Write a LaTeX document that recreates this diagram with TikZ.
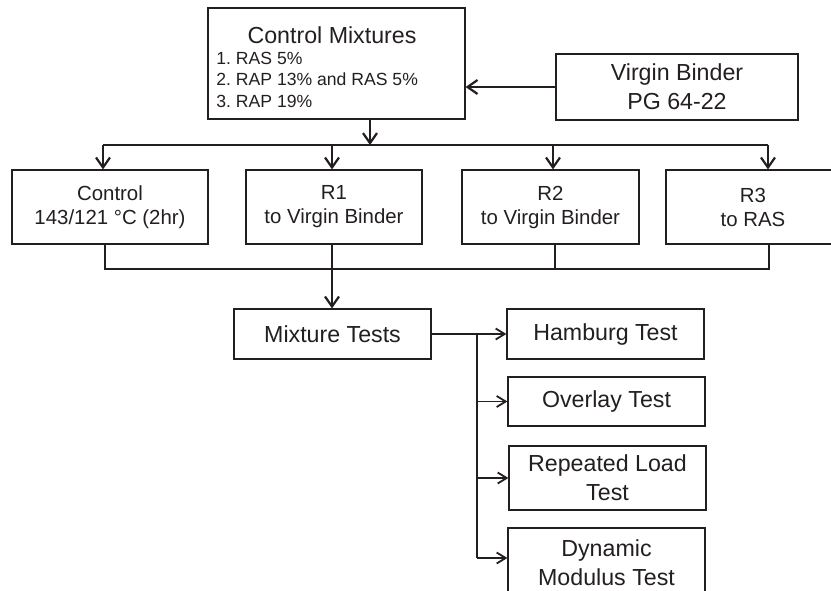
\documentclass[tikz,border=0pt]{standalone}
\usepackage{fontspec}
\setmainfont{Liberation Sans}
\usetikzlibrary{arrows.meta}
\definecolor{ink}{HTML}{231F20}
\frenchspacing
\begin{document}
\begin{tikzpicture}[x=0.5pt,y=-0.5pt,
    box/.style={draw=ink,line width=0.6pt,inner sep=0pt,text=ink,align=center},
    big/.style={font=\fontsize{11.6}{14.5}\selectfont},
    mid/.style={font=\fontsize{10.2}{12}\selectfont},
    small/.style={font=\fontsize{8.8}{10.5}\selectfont,text=ink,inner sep=0pt},
    line/.style={draw=ink,line width=1.3pt},
    arr/.style={draw=ink,line width=1.1pt,-{Straight Barb[length=5pt,width=7pt]}},
    tarr/.style={draw=ink,line width=0.9pt,-{Straight Barb[length=4.5pt,width=5.5pt]}}]
  \useasboundingbox (0,0) rectangle (831,590);
  \clip (0,0) rectangle (831,590);
  \fill[white] (0,0) rectangle (831,590);
  % mixtures and binder
  \node[box,minimum width=128.5pt,minimum height=55.5pt] (mix) at (336.5,63.5) {};
  \node[big,text=ink,inner sep=0pt,anchor=base] (mixt) at (332,43) {Control Mixtures};
  \node[small,anchor=base west] (m1) at (216,64) {1. RAS 5\%};
  \node[small,anchor=base west] (m2) at (216,85) {2. RAP 13\% and RAS 5\%};
  \node[small,anchor=base west] (m3) at (216,107) {3. RAP 19\%};
  \node[box,big,minimum width=121pt,minimum height=33pt] (vb) at (677,87) {Virgin Binder\\PG 64-22};
  % conditioning
  \node[box,mid,minimum width=98pt,minimum height=37pt] (ctl) at (110,207) {Control\\143/121 °C (2hr)};
  \node[box,mid,minimum width=88pt,minimum height=37pt] (r1) at (334,207) {R1\\to Virgin Binder};
  \node[box,mid,minimum width=88.5pt,minimum height=37pt] (r2) at (550.5,207) {R2\\to Virgin Binder};
  \node[box,mid,minimum width=87pt,minimum height=37pt] (r3) at (753,207) {R3\\to RAS};
  % tests
  \node[box,big,minimum width=98.5pt,minimum height=25pt] (mt) at (332.5,334) {Mixture Tests};
  \node[box,big,minimum width=98.5pt,minimum height=25pt] (ham) at (605.5,334) {Hamburg Test};
  \node[box,big,minimum width=98.5pt,minimum height=24.5pt] (ovl) at (606.5,401.5) {Overlay Test};
  \node[box,big,minimum width=98.5pt,minimum height=32pt] (rep) at (607.5,478) {Repeated Load\\Test};
  \node[box,big,minimum width=98.5pt,minimum height=35pt] (dyn) at (606.5,563) {Dynamic\\Modulus Test};
  % connectors
  \coordinate (s) at (370,145);
  \coordinate (t0) at (103,145);
  \coordinate (t1) at (332,145);
  \coordinate (t2) at (553,145);
  \coordinate (t3) at (768,145);
  \coordinate (u0) at (105,269);
  \coordinate (u1) at (332,269);
  \coordinate (u2) at (555,269);
  \coordinate (u3) at (769,269);
  \coordinate (k) at (477,334);
  \coordinate (d) at ([yshift=2.5pt]dyn.west);
  \draw[arr] (vb.west) -- (vb.west -| mix.east);
  \draw[arr] (mix.south -| s) -- (s);
  \draw[line] (t0) -- (t3);
  \draw[arr] (t0) -- (t0 |- ctl.north);
  \draw[arr] (t1) -- (t1 |- r1.north);
  \draw[arr] (t2) -- (t2 |- r2.north);
  \draw[arr] (t3) -- (t3 |- r3.north);
  \draw[line] (ctl.south -| u0) -- (u0) -- (u3) -- (r3.south -| u3);
  \draw[line] (r1.south -| u1) -- (u1);
  \draw[line] (r2.south -| u2) -- (u2);
  \draw[arr] (u1) -- (u1 |- mt.north);
  \draw[tarr] (mt.east) -- (ham.west);
  \draw[line] (k) -- (k |- d);
  \draw[tarr] (k |- ovl.west) -- (ovl.west);
  \draw[tarr] (k |- rep.west) -- (rep.west);
  \draw[tarr] (k |- d) -- (d);
\end{tikzpicture}
\end{document}
